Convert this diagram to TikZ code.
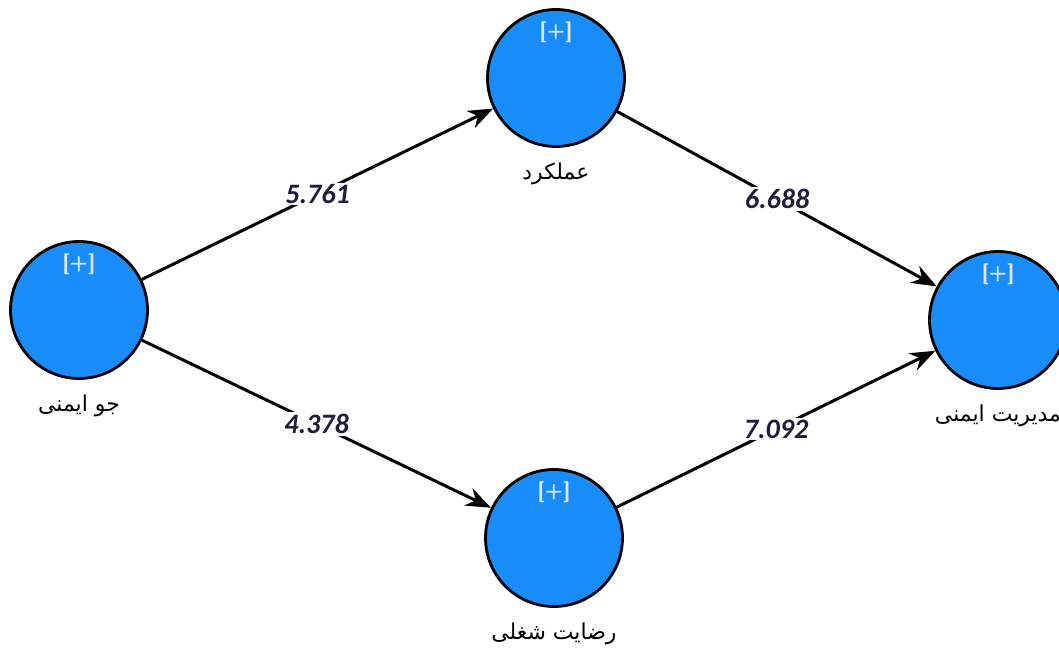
\documentclass[tikz,border=0pt]{standalone}
\usepackage{fontspec}
\setmainfont{Carlito}
\newfontfamily\arabicfont[Script=Arabic]{DejaVu Sans}
\TeXXeTstate=1
\usepackage{tikz}
\usetikzlibrary{shapes, arrows.meta, positioning}
\definecolor{nodeblue}{RGB}{24,141,250}
\definecolor{plusgray}{RGB}{228,230,250}
\definecolor{weightink}{RGB}{30,30,60}

\begin{document}
\begin{tikzpicture}
  [
    x=0.02cm, y=-0.02cm,
    Blue/.style={circle, draw=black, fill=nodeblue, line width=1.6pt, minimum size=2.74cm, inner sep=0pt},
    Name/.style={font=\arabicfont\fontsize{12.5}{14}\selectfont, label distance=0.18cm},
    Plus/.style={text=plusgray, font=\sffamily\bfseries\fontsize{12}{14}\selectfont, label distance=-0.82cm},
    Weight/.style={fill=white, inner sep=1pt, text=weightink, font=\bfseries\itshape\fontsize{16}{18}\selectfont},
    Arrow/.style={-{Stealth[length=5mm, width=3.8mm]}, draw, line width=1.7pt}
  ]
  \useasboundingbox (0,0) rectangle (1059,648);
  % Nodes
  \node[Blue, label={[Plus]above:[+]}, label={[Name]below:\beginR جو ایمنی\endR}] (javimeni) at(79, 310) {};
  \node[Blue, label={[Plus]above:[+]}, label={[Name]below:\beginR عملکرد\endR}] (amalkard) at(556, 78) {};
  \node[Blue, label={[Plus]above:[+]}, label={[Name]below:\beginR مدیریت ایمنی\endR}] (modiriat) at(998, 320) {};
  \node[Blue, label={[Plus]above:[+]}, label={[Name]below:\beginR رضایت شغلی\endR}] (rezayat) at(554, 538) {};
  % Lines
  \path [Arrow] (javimeni) -- node[Weight] {5.761} (amalkard);
  \path [Arrow] (javimeni) -- node[Weight] {4.378} (rezayat);
  \path [Arrow] (amalkard) -- node[Weight] {6.688} (modiriat);
  \path [Arrow] (rezayat) -- node[Weight] {7.092} (modiriat);
\end{tikzpicture}
\end{document}
